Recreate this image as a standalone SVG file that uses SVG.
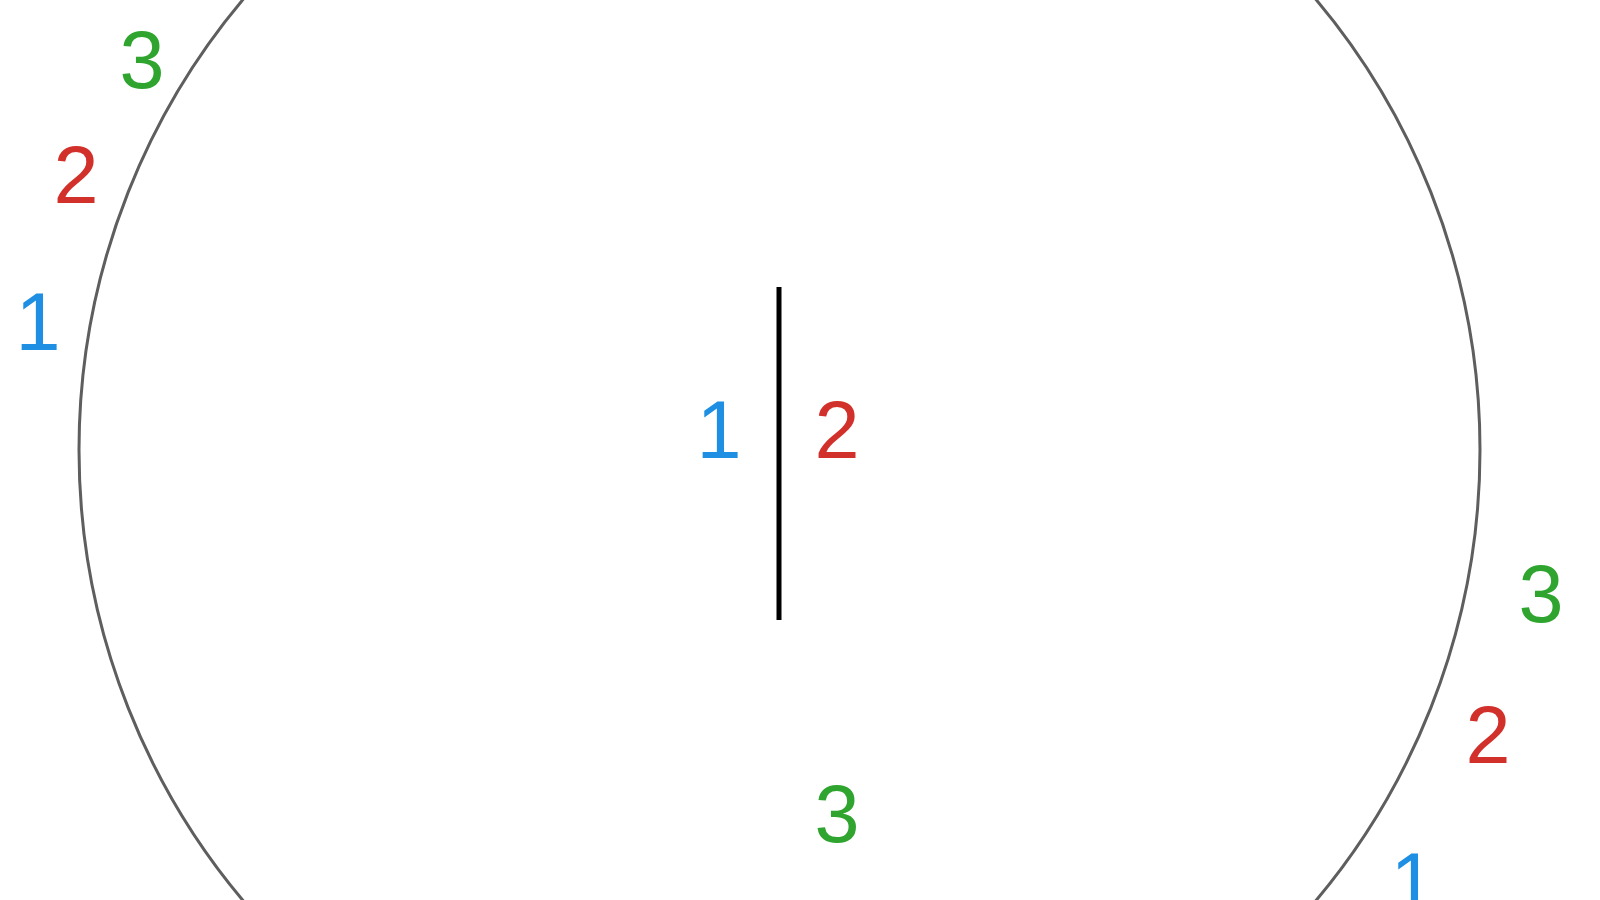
<svg xmlns="http://www.w3.org/2000/svg" width="1600" height="900" viewBox="0 0 1600 900">
<style>
text{font-family:"Liberation Sans",Arial,sans-serif;font-size:81px;text-anchor:middle}
.b{fill:#1f8fe3}.r{fill:#d2302a}.g{fill:#2fa52f}
</style>
<rect width="1600" height="900" fill="#fff"/>
<g id="circle"><circle cx="779.5" cy="450" r="700.5" fill="none" stroke="#5e5e5e" stroke-width="3"/></g>
<g id="connectors"><line x1="779" y1="287" x2="779" y2="620" stroke="#000" stroke-width="5"/></g>
<g id="labels-left">
<text class="g" x="142" y="88">3</text>
<text class="r" x="76" y="203">2</text>
<text class="b" x="38" y="350">1</text>
</g>
<g id="labels-center">
<text class="b" x="719" y="458">1</text>
<text class="r" x="837" y="458">2</text>
<text class="g" x="837" y="842">3</text>
</g>
<g id="labels-right">
<text class="g" x="1541" y="622">3</text>
<text class="r" x="1488" y="763">2</text>
<text class="b" x="1413" y="910">1</text>
</g>
</svg>
